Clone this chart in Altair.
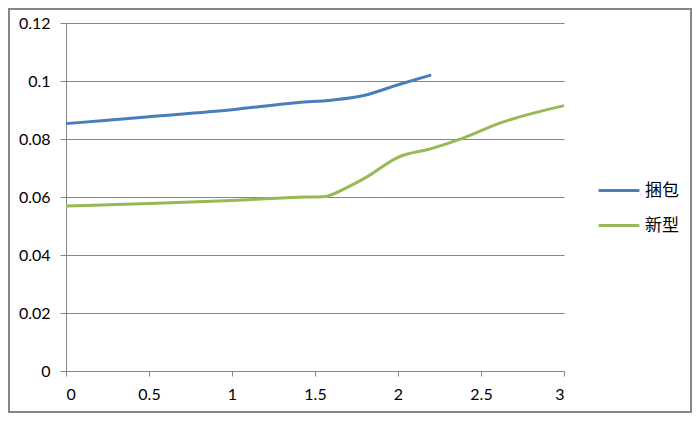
import altair as alt
import pandas as pd

series_a = "捆包"
a_x = [0, 0.5, 1.0, 1.4, 1.6, 1.8, 2.0, 2.2]
a_y = [0.0853, 0.0877, 0.0901, 0.0926, 0.0934, 0.0951, 0.0987, 0.1021]

series_b = "新型"
b_x = [0, 0.5, 1.0, 1.4, 1.55, 1.7, 1.8, 2.0, 2.2, 2.4, 2.6, 3.0]
b_y = [0.0569, 0.0578, 0.0588, 0.0599, 0.0601, 0.0635, 0.0665, 0.0737, 0.0767, 0.0805, 0.0852, 0.0915]

x_ticks = [0, 0.5, 1, 1.5, 2, 2.5, 3]
y_ticks = [0, 0.02, 0.04, 0.06, 0.08, 0.1, 0.12]

colors = ["#4A7EBB", "#98B954"]

df = pd.concat([
    pd.DataFrame({"x": a_x, "y": a_y, "s": series_a}),
    pd.DataFrame({"x": b_x, "y": b_y, "s": series_b}),
])

W, H = 498, 348
PL, PT, PR, PB = 58, 15, 128, 42

lines = alt.Chart(df).mark_line(strokeWidth=3, interpolate="monotone").encode(
    x=alt.X("x:Q", scale=alt.Scale(domain=[0, 3], nice=False),
            axis=alt.Axis(values=x_ticks, title=None, grid=False, tickSize=5,
                          labelPadding=10, format=".1~f")),
    y=alt.Y("y:Q", scale=alt.Scale(domain=[0, 0.12], nice=False),
            axis=alt.Axis(values=y_ticks, title=None, grid=True, tickSize=6,
                          labelPadding=10, format=".2~f")),
    color=alt.Color("s:N", scale=alt.Scale(domain=[series_a, series_b], range=colors),
                    legend=alt.Legend(title=None, orient="none", legendX=543.5, legendY=158,
                                      symbolType="M-2.55,0H2.55", symbolSize=256,
                                      symbolStrokeWidth=3, labelOffset=16.5,
                                      rowPadding=17, padding=0,
                                      labelFont="Noto Sans CJK SC", labelFontSize=17,
                                      labelColor="#000000")),
)

frame = alt.Chart(alt.Data(values=[{}])).mark_rect(
    fill=None, stroke="#868686", strokeWidth=2
).encode(
    x=alt.value(-PL + 1), x2=alt.value(W + PR - 1),
    y=alt.value(-PT + 1), y2=alt.value(H + PB - 1),
)

chart = alt.layer(lines, frame).properties(
    width=W, height=H,
    autosize=alt.AutoSizeParams(type="none"),
    padding={"left": PL, "top": PT, "right": PR, "bottom": PB},
    background="white",
).configure_view(stroke=None).configure_axis(
    labelFont="Lato", labelFontSize=16, labelColor="#000000",
    domainColor="#868686", tickColor="#868686", gridColor="#868686",
    domainWidth=1, tickWidth=1, gridWidth=1,
)

chart.save("out.html", embed_options={"renderer": "svg", "actions": False})
